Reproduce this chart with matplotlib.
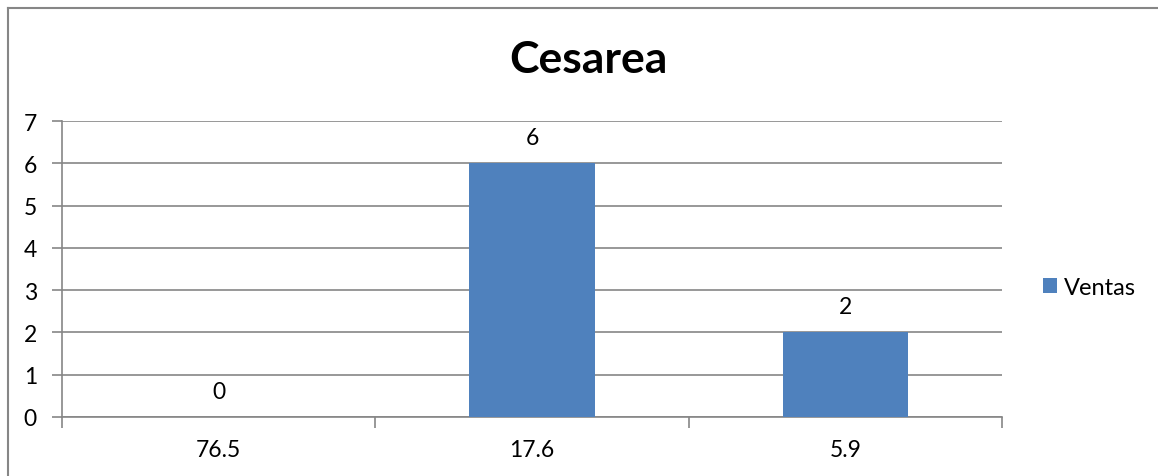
import matplotlib.pyplot as plt
from matplotlib.lines import Line2D

categories = ["76.5", "17.6", "5.9"]
ventas = [0, 6, 2]

plt.rcParams['font.family'] = ['Lato', 'DejaVu Sans']

fig = plt.figure(figsize=(11.58, 4.77), dpi=100)
ax = fig.add_axes([0.0535, 0.1237, 0.8118, 0.6205])

x = list(range(len(categories)))
bars = ax.bar(x, ventas, width=0.4, color='#4F81BD', label='Ventas', zorder=3)
for xi, v in zip(x, ventas):
    ax.text(xi, v + 0.36, str(v), ha='center', va='bottom', fontsize=16.5)

ax.set_xlim(-0.5, len(categories) - 0.5)
ax.set_ylim(0, 7)
ax.set_yticks(range(0, 8))
ax.set_xticks([-0.5, 0.5, 1.5, 2.5])
ax.set_xticklabels([])
ax.set_xticks(x, minor=True)
ax.set_xticklabels(categories, minor=True)
ax.tick_params(axis='x', which='minor', length=0, pad=16, labelsize=16.5)
ax.tick_params(axis='x', which='major', length=8, color='#868686', width=1.2)
ax.tick_params(axis='y', length=7, color='#868686', width=1.2, labelsize=16.5, pad=11)

ax.grid(axis='y', color='#868686', linewidth=1.2, zorder=0)
for side in ['top', 'right']:
    ax.spines[side].set_visible(False)
for side in ['left', 'bottom']:
    ax.spines[side].set_color('#868686')
    ax.spines[side].set_linewidth(1.2)

fig.text(0.508, 0.874, 'Cesarea', ha='center', va='center', fontsize=32, fontweight='bold')

ax.legend(loc='center left', bbox_to_anchor=(1.021, 0.439), frameon=False, fontsize=17,
          handlelength=0.6, handleheight=0.6, handletextpad=0.3)

# outer chart frame
fig.add_artist(Line2D([0.007, 0.007], [0.0, 0.981], color='#868686', linewidth=1.5))
fig.add_artist(Line2D([0.007, 1.0], [0.981, 0.981], color='#868686', linewidth=1.5))

fig.savefig('out.png', dpi=100)
